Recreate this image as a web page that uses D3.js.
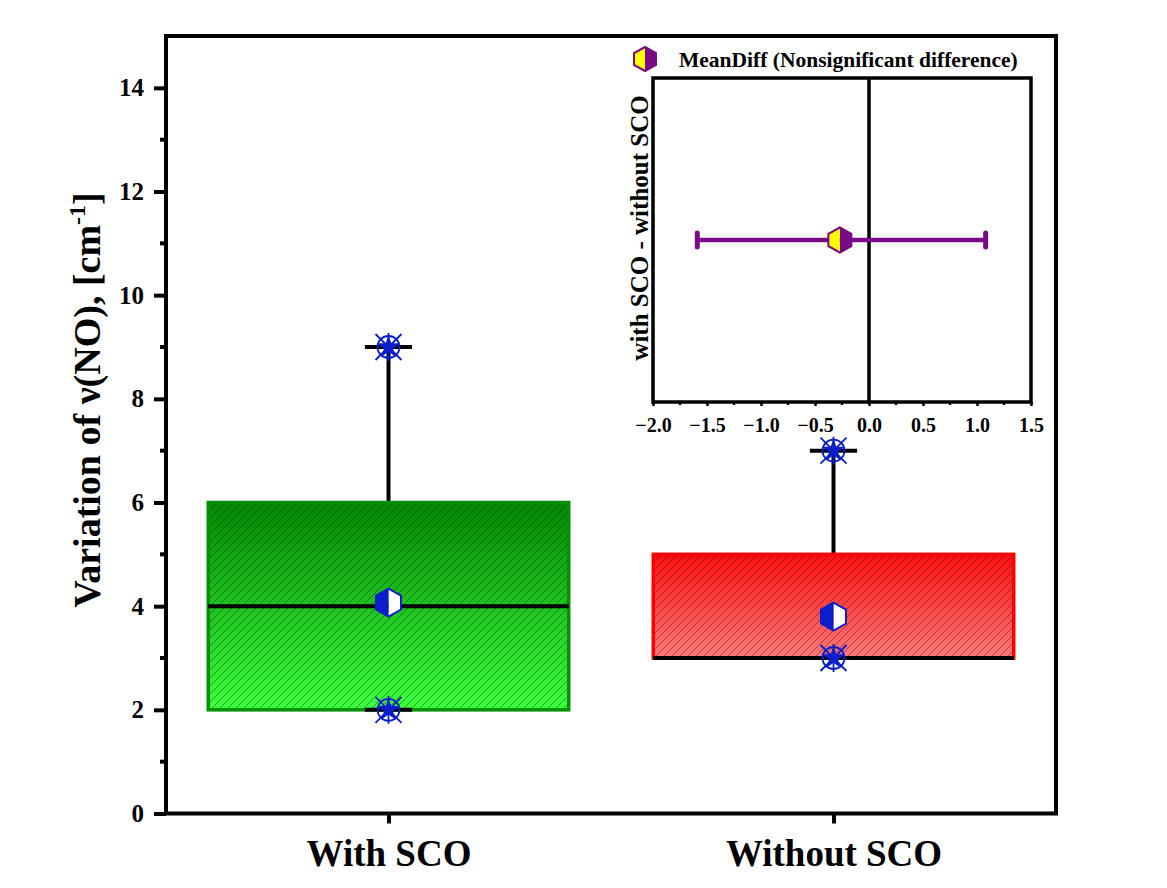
<!DOCTYPE html>
<html lang="en">
<head>
<meta charset="UTF-8">
<title>Variation of v(NO)</title>
<style>
  html, body { margin: 0; padding: 0; background: #fff; }
  svg { display: block; font-family: "Liberation Serif", "Times New Roman", serif; font-weight: bold; }
</style>
</head>
<body>
<svg width="1167" height="888"></svg>
<script src="https://d3js.org/d3.v7.min.js"></script>
<script>
// box chart data
const groups = ["With SCO", "Without SCO"];
const q1 = [2, 3];
const medians = [4, 3];
const q3 = [6, 5];
const whiskerLow = [2, 3];
const whiskerHigh = [9, 7];
const means = [4.07, 3.8];
const yTicks = [0, 2, 4, 6, 8, 10, 12, 14];

// inset (mean difference) data
const diffLabel = "MeanDiff (Nonsignificant difference)";
const meanDiff = [-0.27];
const ciLow = [-1.59];
const ciHigh = [1.08];
const insetTicks = [-2.0, -1.5, -1.0, -0.5, 0.0, 0.5, 1.0, 1.5];

const svg = d3.select("svg");
const frame = { left: 166, right: 1056, top: 36, bottom: 813.5 };

const x = d3.scaleLinear().domain([0.5, 2.5]).range([frame.left, frame.right]);
const y = d3.scaleLinear().domain([0, 15]).range([frame.bottom, frame.top]);

// gradients + hatch
const defs = svg.append("defs");
const grads = [["gGreen", "#008800", "#3dff3d"], ["gRed", "#ff1010", "#ff7a7a"]];
grads.forEach(([id, c0, c1]) => {
  const g = defs.append("linearGradient").attr("id", id)
    .attr("x1", 0).attr("y1", 0).attr("x2", 0).attr("y2", 1);
  g.append("stop").attr("offset", "0%").attr("stop-color", c0);
  g.append("stop").attr("offset", "100%").attr("stop-color", c1);
});
const hatch = defs.append("pattern").attr("id", "hatch")
  .attr("patternUnits", "userSpaceOnUse").attr("width", 8).attr("height", 8);
hatch.append("path").attr("d", "M-2,2 L2,-2 M0,8 L8,0 M6,10 L10,6")
  .attr("stroke", "#000").attr("stroke-opacity", 0.45).attr("stroke-width", 0.8);

const boxW = 0.81, capW = 0.106;
const fills = ["url(#gGreen)", "url(#gRed)"];
const borders = ["#009000", "#ff0000"];

groups.forEach((g, i) => {
  const cx = x(i + 1);
  const bx = x(i + 1 - boxW / 2), bw = x(i + 1 + boxW / 2) - bx;
  // whiskers
  svg.append("line").attr("x1", cx).attr("x2", cx)
    .attr("y1", y(q3[i])).attr("y2", y(whiskerHigh[i]))
    .attr("stroke", "#000").attr("stroke-width", 4);
  // box
  svg.append("rect").attr("x", bx).attr("y", y(q3[i])).attr("width", bw)
    .attr("height", y(q1[i]) - y(q3[i])).attr("fill", fills[i]);
  svg.append("rect").attr("x", bx).attr("y", y(q3[i])).attr("width", bw)
    .attr("height", y(q1[i]) - y(q3[i])).attr("fill", "url(#hatch)")
    .attr("stroke", borders[i]).attr("stroke-width", 3.5);
  // median
  svg.append("line").attr("x1", bx).attr("x2", bx + bw)
    .attr("y1", y(medians[i])).attr("y2", y(medians[i]))
    .attr("stroke", "#000").attr("stroke-width", 4);
  // caps
  [whiskerLow[i], whiskerHigh[i]].forEach(v => {
    svg.append("line").attr("x1", x(i + 1 - capW / 2)).attr("x2", x(i + 1 + capW / 2))
      .attr("y1", y(v)).attr("y2", y(v)).attr("stroke", "#000").attr("stroke-width", 4);
  });
});

// hexagon with vertical side edges
function hexPts(cx, cy, w, h) {
  return [[cx, cy - h / 2], [cx + w / 2, cy - h / 4], [cx + w / 2, cy + h / 4],
          [cx, cy + h / 2], [cx - w / 2, cy + h / 4], [cx - w / 2, cy - h / 4]];
}
function halfHex(cx, cy, w, h, leftCol, rightCol, edge) {
  const p = hexPts(cx, cy, w, h);
  const left = [p[0], p[3], p[4], p[5]];
  const right = [p[0], p[1], p[2], p[3]];
  svg.append("polygon").attr("points", right.join(" ")).attr("fill", rightCol);
  svg.append("polygon").attr("points", left.join(" ")).attr("fill", leftCol);
  svg.append("polygon").attr("points", p.join(" ")).attr("fill", "none")
    .attr("stroke", edge).attr("stroke-width", 2);
}

// min/max symbols
const blue = "#0a1ecc";
function extremeMark(cx, cy) {
  const gm = svg.append("g").attr("transform", `translate(${cx},${cy})`);
  gm.append("circle").attr("r", 11).attr("fill", "none").attr("stroke", blue).attr("stroke-width", 1.8);
  gm.append("path").attr("d", "M-13,-13 L13,13 M13,-13 L-13,13 M0,-14 L0,14")
    .attr("stroke", blue).attr("stroke-width", 1.8);
  gm.append("path").attr("d", d3.symbol(d3.symbolStar, 170)()).attr("fill", blue);
}

groups.forEach((g, i) => {
  extremeMark(x(i + 1), y(whiskerHigh[i]));
  extremeMark(x(i + 1), y(whiskerLow[i]));
  halfHex(x(i + 1), y(means[i]), 25, 28, blue, "#fff", blue);
});

// frame
svg.append("rect").attr("x", frame.left).attr("y", frame.top)
  .attr("width", frame.right - frame.left).attr("height", frame.bottom - frame.top)
  .attr("fill", "none").attr("stroke", "#000").attr("stroke-width", 4);

// y axis
const yAxis = d3.axisLeft(y).tickValues(yTicks).tickSize(12).tickPadding(10).tickFormat(d3.format("d"));
const gy = svg.append("g").attr("transform", `translate(${frame.left},0)`).call(yAxis);
gy.select(".domain").remove();
gy.selectAll("line").attr("stroke-width", 4);
gy.selectAll("text").attr("font-size", 25).attr("font-family", "Liberation Serif").attr("font-weight", "bold");
const minor = d3.range(1, 15, 2);
svg.append("g").selectAll("line").data(minor).join("line")
  .attr("x1", frame.left - 6).attr("x2", frame.left)
  .attr("y1", d => y(d)).attr("y2", d => y(d)).attr("stroke", "#000").attr("stroke-width", 4);

// x axis
const xAxis = d3.axisBottom(x).tickValues([1, 2]).tickSize(10).tickPadding(16)
  .tickFormat(d => groups[d - 1]);
const gx = svg.append("g").attr("transform", `translate(0,${frame.bottom})`).call(xAxis);
gx.select(".domain").remove();
gx.selectAll("line").attr("stroke-width", 4);
gx.selectAll("text").attr("font-size", 37).attr("font-family", "Liberation Serif").attr("font-weight", "bold");

// y title
const yt = svg.append("text").attr("transform", "translate(100,400) rotate(-90)")
  .attr("text-anchor", "middle").attr("font-size", 38);
yt.append("tspan").text("Variation of \u03bd(NO), [cm");
yt.append("tspan").attr("font-size", 24).attr("dy", -15).text("-1");
yt.append("tspan").attr("dy", 15).text("]");

// ---- inset ----
const inset = { left: 653, right: 1031, top: 78, bottom: 402 };
const xi = d3.scaleLinear().domain([-2, 1.5]).range([inset.left, inset.right]);
const yi = d3.scaleLinear().domain([0, 1]).range([inset.bottom, inset.top]);

svg.append("rect").attr("x", inset.left).attr("y", inset.top)
  .attr("width", inset.right - inset.left).attr("height", inset.bottom - inset.top)
  .attr("fill", "none").attr("stroke", "#000").attr("stroke-width", 3.5);
svg.append("line").attr("x1", xi(0)).attr("x2", xi(0)).attr("y1", inset.top).attr("y2", inset.bottom)
  .attr("stroke", "#000").attr("stroke-width", 3.5);

const xiAxis = d3.axisBottom(xi).tickValues(insetTicks).tickSize(4).tickPadding(12)
  .tickFormat(d3.format(".1f"));
const gxi = svg.append("g").attr("transform", `translate(0,${inset.bottom})`).call(xiAxis);
gxi.select(".domain").remove();
gxi.selectAll("line").attr("stroke-width", 2.5);
gxi.selectAll("text").attr("font-size", 20).attr("font-family", "Liberation Serif").attr("font-weight", "bold");
svg.append("g").selectAll("line").data(d3.range(-1.75, 1.5, 0.5)).join("line")
  .attr("x1", d => xi(d)).attr("x2", d => xi(d))
  .attr("y1", inset.bottom).attr("y2", inset.bottom + 3).attr("stroke", "#000").attr("stroke-width", 2.5);

svg.append("text").attr("transform", `translate(648,${(inset.top + inset.bottom) / 2 - 12}) rotate(-90)`)
  .attr("text-anchor", "middle").attr("font-size", 25).text("with SCO - without SCO");

// error bar
const purple = "#7a0a86";
const ey = yi(0.5);
svg.append("line").attr("x1", xi(ciLow[0])).attr("x2", xi(ciHigh[0]))
  .attr("y1", ey).attr("y2", ey).attr("stroke", purple).attr("stroke-width", 4.5);
[ciLow[0], ciHigh[0]].forEach(v => {
  svg.append("line").attr("x1", xi(v)).attr("x2", xi(v)).attr("y1", ey - 7).attr("y2", ey + 7)
    .attr("stroke", purple).attr("stroke-width", 5).attr("stroke-linecap", "round");
});
halfHex(xi(meanDiff[0]), ey, 23, 25, "#ffff00", purple, purple);

// legend
halfHex(645, 59, 22, 24, "#ffff00", purple, purple);
svg.append("text").attr("x", 679).attr("y", 67).attr("font-size", 21.5).text(diffLabel);
</script>
</body>
</html>
